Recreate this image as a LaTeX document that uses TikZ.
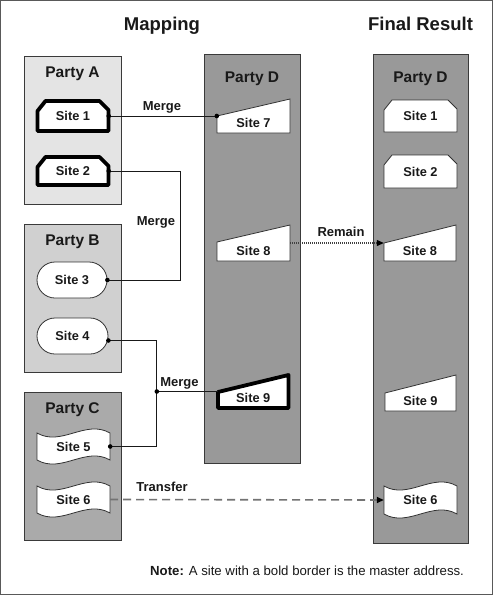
\documentclass[tikz,border=0pt]{standalone}
\usepackage{fontspec}
\setmainfont{Liberation Sans}
\usetikzlibrary{calc,arrows.meta}
\definecolor{pa}{HTML}{E4E4E4}
\definecolor{pb}{HTML}{D0D0D0}
\definecolor{pc}{HTML}{AAAAAA}
\definecolor{pd}{HTML}{999999}
\definecolor{edgec}{HTML}{3A3A3A}
\tikzset{
  frame/.style={draw=black!65, line width=1pt},
  party/.style={draw=edgec, line width=0.8pt, inner sep=0pt},
  partylbl/.style={font=\bfseries\fontsize{15.5}{17}\selectfont, anchor=base, inner sep=0pt, text=black!90},
  title/.style={font=\bfseries\fontsize{18.5}{21}\selectfont, anchor=base, inner sep=0pt, text=black!90},
  lbl/.style={font=\bfseries\fontsize{13}{15}\selectfont, anchor=base, inner sep=0pt, text=black!90},
  sitetxt/.style={font=\bfseries\fontsize{12.8}{14}\selectfont, inner sep=0pt, text=black!90},
  thinsite/.style={draw=black!80, fill=white, line width=0.8pt},
  boldsite/.style={draw=black, fill=white, line width=3.8pt, line join=round},
  conn/.style={draw=black!90, line width=0.9pt},
  remain/.style={draw=black!75, line width=1.1pt, dash pattern=on 1pt off 1pt, -{Triangle[length=7pt,width=6pt,color=black]}},
  transfer/.style={draw=black!55, line width=1.6pt, dash pattern=on 8pt off 5pt, -{Triangle[length=7pt,width=6pt,color=black]}},
}
% chamfered site: name, text, L, T, R, B, style
\newcommand\chamsite[7]{%
  \filldraw[#7] (#3,#6) -- (#3,#4+10) -- (#3+8,#4) -- (#5-9,#4) -- (#5,#4+9) -- (#5,#6) -- cycle;
  \pgfmathsetmacro\sitew{#5-#3}\pgfmathsetmacro\siteh{#6-#4}%
  \pgfmathsetmacro\sitex{(#3+#5)/2}\pgfmathsetmacro\sitey{(#4+#6)/2}%
  \node[sitetxt, minimum width=\sitew pt, minimum height=\siteh pt] (#1) at (\sitex,\sitey) {#2};}
% trapezoid site: name, text, L, TL, R, TR, B, style
\newcommand\trapsite[8]{%
  \filldraw[#8] (#3,#4) -- (#5,#6) -- (#5,#7) -- (#3,#7) -- cycle;
  \pgfmathsetmacro\sitew{#5-#3}\pgfmathsetmacro\siteth{#7-#6-5.35}%
  \pgfmathsetmacro\sitex{(#3+#5)/2}\pgfmathsetmacro\sitey{(#6+#7)/2}%
  \node[sitetxt, minimum width=\sitew pt, text height=\siteth pt, text depth=5.35pt] (#1) at (\sitex,\sitey) {#2};}
% tape site: name, text, L, T, R, B, style
\newcommand\tapesite[7]{%
  \pgfmathsetmacro\qa{#3+(#5-#3)/3}\pgfmathsetmacro\qb{#3+2*(#5-#3)/3}%
  \filldraw[#7] (#3,#4) .. controls (\qa,#4+14) and (\qb,#4-14) .. (#5,#4) -- (#5,#6) .. controls (\qb,#6-14) and (\qa,#6+14) .. (#3,#6) -- cycle;
  \pgfmathsetmacro\sitew{#5-#3}\pgfmathsetmacro\siteh{#6-#4}%
  \pgfmathsetmacro\sitex{(#3+#5)/2}\pgfmathsetmacro\sitey{(#4+#6)/2}%
  \node[sitetxt, minimum width=\sitew pt, minimum height=\siteh pt] (#1) at (\sitex,\sitey) {#2};}
\begin{document}
\begin{tikzpicture}[x=1pt,y=-1pt]
\useasboundingbox (0,0) rectangle (493,595);
\fill[white] (0,0) rectangle (493,595);
\draw[frame] (0.5,0.5) rectangle (492.5,594.5);

% titles
\node[title] (tmap) at (162,30.5) {Mapping};
\node[title] (tfin) at (420.5,30.5) {Final Result};

% party boxes
\node[party, fill=pa, minimum width=97pt, minimum height=148pt] (pA) at (72.5,130) {};
\node[party, fill=pb, minimum width=97pt, minimum height=148pt] (pB) at (72.5,298) {};
\node[party, fill=pc, minimum width=97pt, minimum height=148pt] (pC) at (72.5,466) {};
\node[party, fill=pd, minimum width=96pt, minimum height=409pt] (pD) at (252,258.5) {};
\node[party, fill=pd, minimum width=95pt, minimum height=489pt] (pF) at (420.5,298.5) {};

\node[partylbl] (lA) at (72.5,77) {Party A};
\node[partylbl] (lB) at (72.5,245) {Party B};
\node[partylbl] (lC) at (72.5,413) {Party C};
\node[partylbl] (lD) at (252,82) {Party D};
\node[partylbl] (lF) at (420.5,82) {Party D};

% sites of parties A, B, C
\chamsite{s1}{Site 1}{37.5}{101}{108.5}{131}{boldsite}
\chamsite{s2}{Site 2}{37.5}{157}{108.5}{185}{boldsite}
\node[sitetxt, draw=black!80, fill=white, line width=0.8pt, rounded corners=18pt, minimum width=70pt, minimum height=36pt] (s3) at (72,280) {Site 3};
\node[sitetxt, draw=black!80, fill=white, line width=0.8pt, rounded corners=18pt, minimum width=71pt, minimum height=36pt] (s4) at (72.5,336) {Site 4};
\tapesite{s5}{Site 5}{37}{433}{110}{460}{thinsite}
\tapesite{s6}{Site 6}{37}{486}{110}{513}{thinsite}

% sites of party D (mapping)
\trapsite{s7}{Site 7}{217}{116}{290}{99}{133}{thinsite}
\trapsite{s8}{Site 8}{217}{242}{290}{225}{261}{thinsite}
\trapsite{s9}{Site 9}{218}{392}{288.5}{375}{408}{boldsite}

% final result sites
\chamsite{f1}{Site 1}{384}{100}{457}{132}{thinsite}
\chamsite{f2}{Site 2}{384}{155}{457}{188}{thinsite}
\trapsite{f8}{Site 8}{384}{243}{456}{225}{261}{thinsite}
\trapsite{f9}{Site 9}{385}{393}{456}{375}{411}{thinsite}
\tapesite{f6}{Site 6}{384}{486}{457}{514}{thinsite}

% connectors
\coordinate (jn) at ($(s9.west)+(-61,0)$);
\coordinate (s4p) at ($(s4.east)+(0,4.5)$);
\draw[conn] (s1.east) -- (s1.east -| s7.west);
\draw[conn] (s2.east) -- ++(71.5,0) |- (s3.east);
\draw[conn] (s4p) -| (jn) |- (s5.east);
\draw[conn] (jn) -- (jn -| s9.west);
\draw[remain] (s8.east) -- (f8.west);
\draw[transfer] (s6.east) -- (f6.west);

\fill[black] (s1.east) circle[radius=2.3pt];
\fill[black] (s1.east -| s7.west) circle[radius=2.3pt];
\fill[black] (s2.east) circle[radius=2.3pt];
\fill[black] (s3.east) circle[radius=2.3pt];
\fill[black] (s4p) circle[radius=2.3pt];
\fill[black] (s5.east) circle[radius=2.3pt];
\fill[black] (jn) circle[radius=2.3pt];

% connector labels
\node[lbl] (m1) at (162,110) {Merge};
\node[lbl] (m2) at (156,225) {Merge};
\node[lbl] (m3) at (179.5,386) {Merge};
\node[lbl] (rm) at (341,236.7) {Remain};
\node[lbl] (tr) at (162,491.7) {Transfer};

% note
\node[anchor=base west, inner sep=0pt, font=\fontsize{13.2}{15}\selectfont, text=black!90] (note) at (150,575) {\textbf{Note:} A site with a bold border is the master address.};
\end{tikzpicture}
\end{document}
